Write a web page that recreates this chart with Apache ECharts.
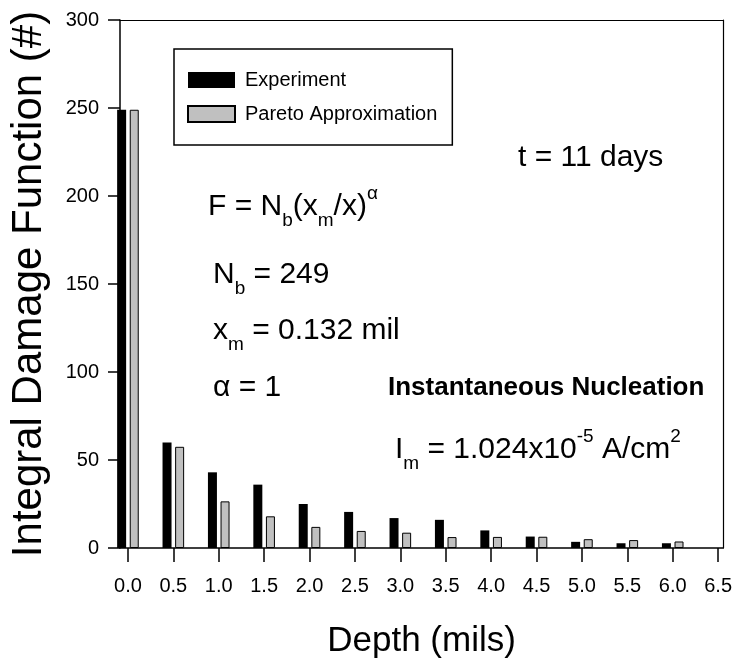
<!DOCTYPE html>
<html>
<head>
<meta charset="utf-8">
<script src="https://cdn.jsdelivr.net/npm/echarts@6/dist/echarts.min.js"></script>
<style>
  html, body { margin: 0; padding: 0; background: #fff; }
  #chart-div { width: 735px; height: 667px; }
</style>
</head>
<body>
<div id="chart-div"></div>
<script>
// data
const depth = [0.0, 0.5, 1.0, 1.5, 2.0, 2.5, 3.0, 3.5, 4.0, 4.5, 5.0, 5.5, 6.0]
const experiment = [249, 60, 43, 36, 25, 20.5, 17, 16, 10, 6.5, 3.5, 2.7, 2.7]
const pareto = [249, 57.5, 26.5, 18, 12, 9.7, 8.7, 6.2, 6.3, 6.4, 5, 4.5, 3.7]
const xTicks = [0, 0.5, 1, 1.5, 2, 2.5, 3, 3.5, 4, 4.5, 5, 5.5, 6, 6.5]

const font = '"Liberation Sans", Arial, sans-serif'

// teksti-rivit, alaindeksit ja yläindeksit rich-tyyleillä
const notes = [
    { x: 208, y: 184, text: '{n|F = N}{sub|b}{n|(x}{sub|m}{n|/x)}{sup|α}' },
    { x: 213, y: 252, text: '{n|N}{sub|b}{n| = 249}' },
    { x: 213, y: 308, text: '{n|x}{sub|m}{n| = 0.132 mil}' },
    { x: 213, y: 365, text: '{n|α = 1}' },
    { x: 518, y: 135, text: '{n|t = 11 days}' },
    { x: 388, y: 365, text: '{b|Instantaneous Nucleation}' },
    { x: 395, y: 427, text: '{n|I}{sub|m}{n| = 1.024x10}{sup|-5}{n| A/cm}{sup|2}' }
]

const rich = {
    n: { fontSize: 30, lineHeight: 46, fontFamily: font, fill: '#000' },
    b: { fontSize: 26, lineHeight: 46, fontFamily: font, fontWeight: 'bold', fill: '#000' },
    sub: { fontSize: 19, lineHeight: 19, fontFamily: font, verticalAlign: 'bottom', fill: '#000' },
    sup: { fontSize: 19, lineHeight: 19, fontFamily: font, verticalAlign: 'top', fill: '#000' }
}

let myChart = echarts.init(document.getElementById('chart-div'))

const option = {
    animation: false,
    backgroundColor: '#fff',
    textStyle: { fontFamily: font },
    grid: { left: 117, right: 10, top: 20, bottom: 119 },
    legend: {
        orient: 'vertical',
        left: 174,
        top: 49,
        padding: [21, 15, 21, 13],
        itemWidth: 47,
        itemHeight: 16,
        itemGap: 14,
        borderColor: '#000',
        borderWidth: 1.5,
        icon: 'rect',
        textStyle: { fontSize: 20, color: '#000', fontFamily: font, padding: [0, 0, 0, 5] },
        data: ['Experiment', 'Pareto Approximation']
    },
    xAxis: [{
        type: 'value',
        min: -0.0874,
        max: 6.555,
        name: 'Depth (mils)',
        nameLocation: 'middle',
        nameGap: 76,
        nameTextStyle: { fontSize: 35, color: '#000', fontFamily: font },
        axisLine: { onZero: false, lineStyle: { color: '#000', width: 1.5 } },
        axisTick: { customValues: xTicks, length: 14, lineStyle: { color: '#000', width: 1.5 } },
        axisLabel: {
            customValues: xTicks, margin: 28, fontSize: 20, color: '#000', fontFamily: font,
            formatter: v => v.toFixed(1)
        },
        splitLine: { show: false }
    }, {
        type: 'value',
        position: 'top',
        min: -0.0874,
        max: 6.555,
        axisLine: { show: true, onZero: false, lineStyle: { color: '#000', width: 1.2 } },
        axisTick: { show: false },
        axisLabel: { show: false },
        splitLine: { show: false }
    }],
    yAxis: [{
        type: 'value',
        min: 0,
        max: 300,
        interval: 50,
        name: 'Integral Damage Function (#)',
        nameLocation: 'middle',
        nameGap: 70,
        nameTextStyle: { fontSize: 42, color: '#000', fontFamily: font },
        axisLine: { show: true, onZero: false, lineStyle: { color: '#000', width: 1.5 } },
        axisTick: { show: true, length: 12, lineStyle: { color: '#000', width: 1.5 } },
        axisLabel: { margin: 21, fontSize: 20, color: '#000', fontFamily: font },
        splitLine: { show: false }
    }, {
        type: 'value',
        position: 'right',
        min: 0,
        max: 300,
        axisLine: { show: true, onZero: false, lineStyle: { color: '#000', width: 1.2 } },
        axisTick: { show: false },
        axisLabel: { show: false },
        splitLine: { show: false }
    }],
    series: [{
        name: 'Experiment',
        type: 'bar',
        barWidth: 9,
        barGap: '40%',
        itemStyle: { color: '#000' },
        data: depth.map((d, i) => [d, experiment[i]])
    }, {
        name: 'Pareto Approximation',
        type: 'bar',
        barWidth: 9,
        barGap: '40%',
        itemStyle: { color: '#c0c0c0', borderColor: '#000', borderWidth: 1 },
        data: depth.map((d, i) => [d, pareto[i]])
    }],
    graphic: notes.map(t => ({
        type: 'text',
        x: t.x,
        y: t.y,
        style: { text: t.text, rich: rich, verticalAlign: 'top', align: 'left' }
    }))
}

myChart.setOption(option)
</script>
</body>
</html>
